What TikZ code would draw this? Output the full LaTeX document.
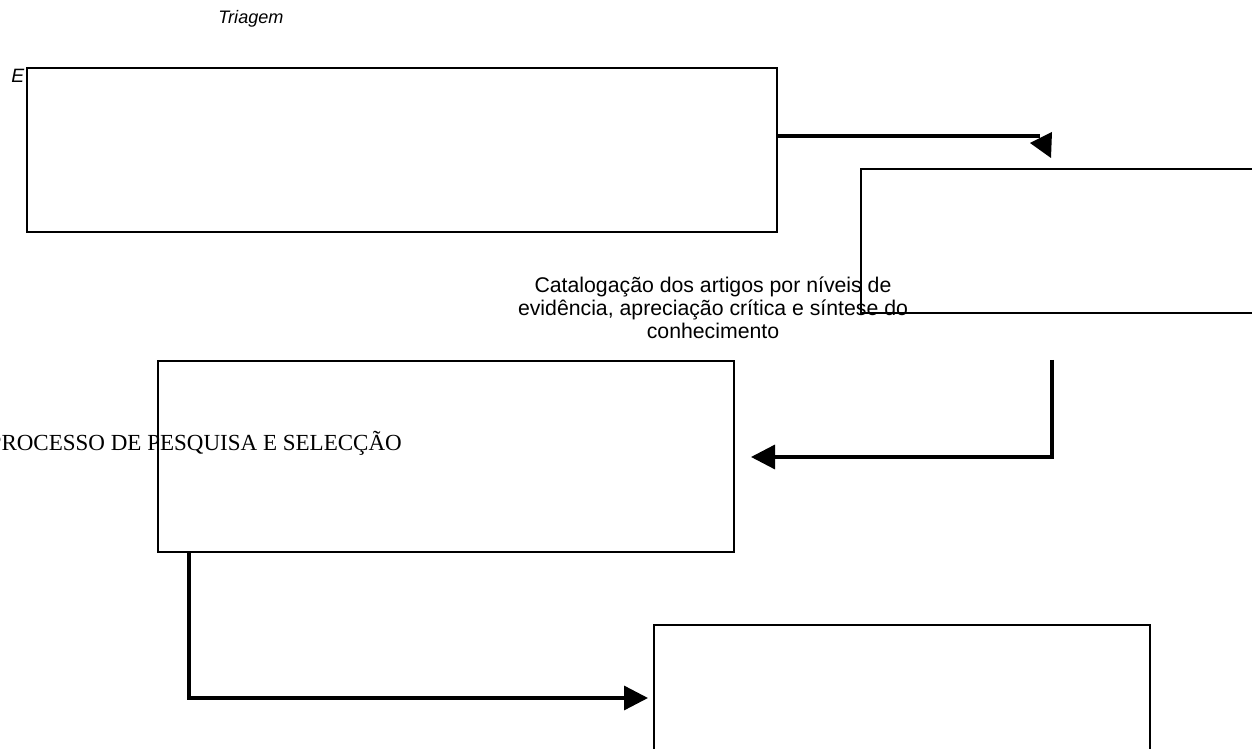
\documentclass[tikz,border=0pt]{standalone}
\usepackage{fontspec}
\usepackage{tikz}
\usetikzlibrary{arrows.meta}
\newfontfamily\arialf{Liberation Sans}
\newfontfamily\seriff{Liberation Serif}

\begin{document}
\begin{tikzpicture}[x=0.02cm, y=-0.02cm,
    box/.style={draw=black, line width=1.1pt, inner sep=0pt, outer sep=0pt},
    flow/.style={line width=1.9pt, -{Triangle[length=0.48cm, width=0.48cm]}},
    plain/.style={line width=1.9pt}]
    \clip (0,0) rectangle (1252,749);

    % Hidden title behind the first box
    \node[font=\arialf\itshape\fontsize{11}{13}\selectfont, anchor=west, inner sep=0pt] (elegtxt) at (11,76) {E};
    \node[font=\arialf\itshape\fontsize{10.3}{13}\selectfont] (triagem) at (251,19) {Triagem};

    % Boxes
    \node[box, fill=white, minimum width=15cm, minimum height=3.28cm] (boxA) at (402,150) {};
    \node[box, minimum width=8.8cm, minimum height=2.88cm] (boxB) at (1081,241) {};
    \node[box, minimum width=11.52cm, minimum height=3.82cm] (boxC) at (446,456.5) {};
    \node[box, minimum width=9.92cm, minimum height=3.6cm] (boxD) at (902,715) {};

    % Labels
    \node[font=\arialf\fontsize{12.1}{13.1}\selectfont, align=center] (catalog) at (713,308)
        {Catalogação dos artigos por níveis de\\evidência, apreciação crítica e síntese do\\conhecimento};
    \node[font=\seriff\fontsize{13.1}{15}\selectfont, anchor=east] (processo) at (408,443)
        {PROCESSO DE PESQUISA E SELECÇÃO};

    % Connectors
    \coordinate (a1s) at (777,136);
    \coordinate (a1e) at (1040,136);
    \draw[plain] (a1s) -- (a1e);
    \fill (1030,143) -- (1052,132) -- (1051,158) -- cycle;

    \coordinate (a2s) at (1052,360);
    \coordinate (a2e) at (751,457);
    \draw[flow] (a2s) |- (a2e);

    \coordinate (a3s) at (189,552);
    \coordinate (a3e) at (648,698);
    \draw[flow] (a3s) |- (a3e);
\end{tikzpicture}
\end{document}
